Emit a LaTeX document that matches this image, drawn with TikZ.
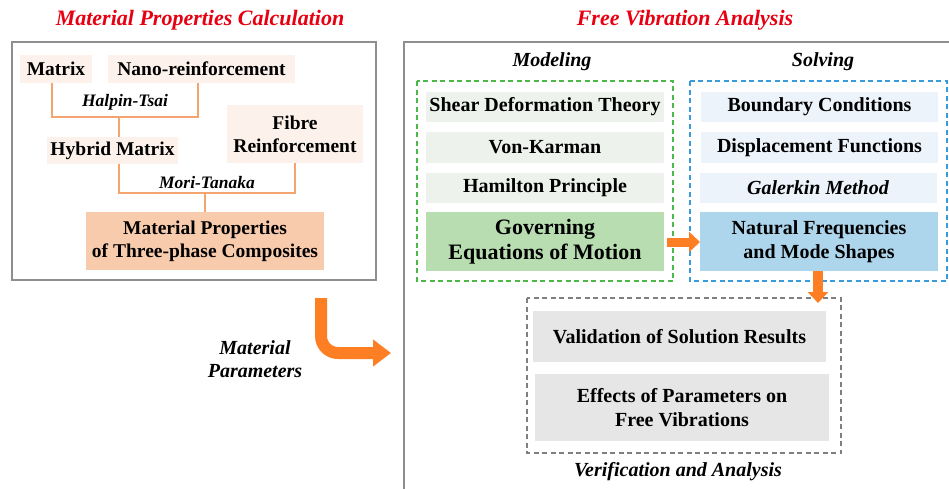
\documentclass[tikz,border=0pt]{standalone}
\usepackage{fontspec}
\setmainfont{Liberation Serif}
\usetikzlibrary{arrows.meta}
\definecolor{titlered}{HTML}{E60012}
\definecolor{framegray}{HTML}{8E8E8E}
\definecolor{lightpeach}{HTML}{FCF2EB}
\definecolor{peach}{HTML}{F9CBAD}
\definecolor{linkorange}{HTML}{F4A46E}
\definecolor{arroworange}{HTML}{FD7E23}
\definecolor{lightgreenfill}{HTML}{EDF3EC}
\definecolor{greenfill}{HTML}{B7DDB0}
\definecolor{lightbluefill}{HTML}{ECF3FB}
\definecolor{bluefill}{HTML}{ADD5EC}
\definecolor{grayfill}{HTML}{E6E6E6}
\definecolor{dashgreen}{HTML}{4CB848}
\definecolor{dashblue}{HTML}{3A9BDA}
\definecolor{dashgray}{HTML}{7F7F7F}
\tikzset{
  every node/.style={inner sep=0pt, outer sep=0pt},
  box/.style={rectangle, align=center, font=\bfseries\fontsize{20}{24}\selectfont},
  lbox/.style={box, fill=lightpeach, font=\bfseries\fontsize{19.5}{23}\selectfont},
  link/.style={draw=linkorange, line width=1.4pt},
  lbl/.style={font=\bfseries\itshape\fontsize{17.5}{21}\selectfont},
  hdr/.style={font=\bfseries\itshape\fontsize{20}{23}\selectfont},
  ttl/.style={font=\bfseries\itshape\fontsize{22}{26}\selectfont, text=titlered},
  frame/.style={draw=framegray, line width=1.8pt},
  dframe/.style={dashed, dash pattern=on 5pt off 3.5pt, line width=1.4pt},
  bigarrow/.style={draw=arroworange, line width=#1},
}
\begin{document}
\begin{tikzpicture}[x=1pt,y=-1pt]
\useasboundingbox (0,0) rectangle (949,488);
\clip (0,0) rectangle (949,488);
\fill[white] (0,0) rectangle (949,488);

% titles
\node[ttl] (t1) at (200,20) {Material Properties Calculation};
\node[ttl] (t2) at (685,20) {Free Vibration Analysis};

% outer frames
\draw[frame] (12,42) rectangle (376,280);
\draw[frame] (404,42) rectangle (965,500);

% left part
\node[lbox, minimum width=72, minimum height=28] (matrix) at (56,69) {Matrix};
\node[lbox, minimum width=187, minimum height=28] (nano) at (201.5,69) {Nano-reinforcement};
\node[lbox, minimum width=131, minimum height=27] (hybrid) at (112.5,150.5) {Hybrid Matrix};
\node[lbox, minimum width=136, minimum height=58] (fibre) at (295,134) {Fibre\\Reinforcement};
\node[lbox, fill=peach, minimum width=238, minimum height=58] (matprop) at (205,241) {Material Properties\\of Three-phase Composites};

\coordinate (ht) at (119,117);
\coordinate (mt) at (205,193);
\draw[link] ([xshift=-4pt]matrix.south) |- (ht) -| ([xshift=-3.5pt]nano.south);
\draw[link] (ht) -- ([xshift=6.5pt]hybrid.north);
\draw[link] ([xshift=6.5pt]hybrid.south) |- (mt) -| (fibre.south);
\draw[link] (mt) -- (matprop.north);
\node[lbl] (halpin) at (125,102) {Halpin-Tsai};
\node[lbl] (mori) at (207,183) {Mori-Tanaka};

% L arrow and label
\coordinate (lstart) at (321,298);
\coordinate (ltip) at (391,353);
\draw[bigarrow=12pt, rounded corners=17pt, -{Triangle[width=26pt,length=18pt]}] (lstart) |- (ltip);
\node[hdr, align=center, font=\bfseries\itshape\fontsize{20}{23}\selectfont] (matpar) at (255,359.5) {Material\\Parameters};

% modeling
\node[hdr] (modeling) at (552,62) {Modeling};
\node[hdr] (solving) at (823,62) {Solving};
\draw[dframe, draw=dashgreen] (417,81) rectangle (673,281);
\draw[dframe, draw=dashblue] (690,81) rectangle (947,281);

\node[box, fill=lightgreenfill, minimum width=238, minimum height=30] (shear) at (545,107) {Shear Deformation Theory};
\node[box, fill=lightgreenfill, minimum width=238, minimum height=31] (von) at (545,147.5) {Von-Karman};
\node[box, fill=lightgreenfill, minimum width=238, minimum height=30] (ham) at (545,188) {Hamilton Principle};
\node[box, fill=greenfill, minimum width=238, minimum height=59, font=\bfseries\fontsize{22}{25}\selectfont] (gov) at (545,241.5) {Governing\\Equations of Motion};

\node[box, fill=lightbluefill, minimum width=237, minimum height=30] (bc) at (819.5,107) {Boundary Conditions};
\node[box, fill=lightbluefill, minimum width=237, minimum height=31] (disp) at (819.5,147.5) {Displacement Functions};
\node[box, fill=lightbluefill, minimum width=237, minimum height=30, font=\bfseries\itshape\fontsize{20}{24}\selectfont] (gal) at (818,188) {Galerkin Method};
\node[box, fill=bluefill, minimum width=238, minimum height=59] (nat) at (819,241.5) {Natural Frequencies\\and Mode Shapes};

\draw[bigarrow=9pt, shorten <=3pt, -{Triangle[width=20pt,length=11pt]}] (gov.east |- 0,242) -- (nat.west |- 0,242);

% verification
\draw[dframe, draw=dashgray] (527,298) rectangle (841,453);
\node[box, fill=grayfill, minimum width=293, minimum height=51] (valid) at (679.5,336.5) {Validation of Solution Results};
\node[box, fill=grayfill, minimum width=294, minimum height=67] (effects) at (682,407.5) {Effects of Parameters on\\Free Vibrations};
\node[hdr] (verif) at (678,472) {Verification and Analysis};

\coordinate (dtip) at (818,303);
\draw[bigarrow=10pt, -{Triangle[width=20pt,length=11pt]}] (nat.south -| dtip) -- (dtip);
\end{tikzpicture}
\end{document}
